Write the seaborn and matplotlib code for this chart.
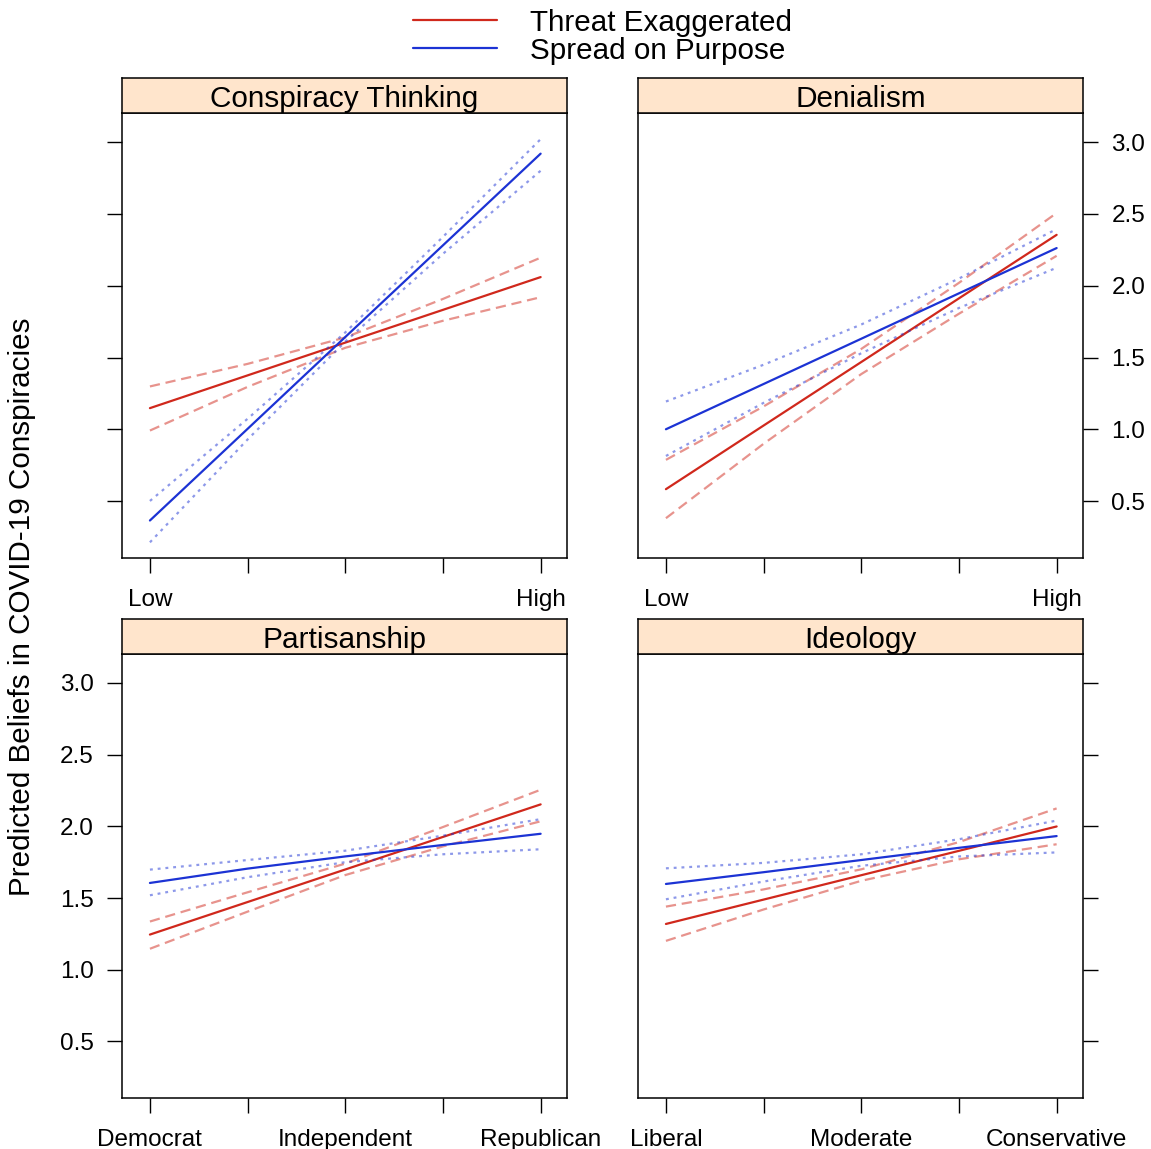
import matplotlib
matplotlib.use("Agg")
import numpy as np
import pandas as pd
import seaborn as sns
import matplotlib.pyplot as plt
from matplotlib.lines import Line2D

# ---------------- data ----------------
panels = ["Conspiracy Thinking", "Denialism", "Partisanship", "Ideology"]
series_names = ["Threat Exaggerated", "Spread on Purpose"]
x_levels = [1, 2, 3, 4, 5]

lowhigh_labels = ["Low", "", "", "", "High"]
party_labels = ["Democrat", "", "Independent", "", "Republican"]
ideology_labels = ["Liberal", "", "Moderate", "", "Conservative"]
y_ticks = [0.5, 1.0, 1.5, 2.0, 2.5, 3.0]

# Conspiracy Thinking
ct_threat_fit = [1.148, 1.376, 1.604, 1.832, 2.060]
ct_threat_upper = [1.299, 1.456, 1.640, 1.908, 2.195]
ct_threat_lower = [0.992, 1.296, 1.568, 1.756, 1.920]
ct_spread_fit = [0.366, 1.004, 1.643, 2.281, 2.919]
ct_spread_upper = [0.502, 1.074, 1.675, 2.340, 3.020]
ct_spread_lower = [0.214, 0.930, 1.611, 2.222, 2.800]

# Denialism
de_threat_fit = [0.584, 1.027, 1.469, 1.912, 2.354]
de_threat_upper = [0.788, 1.160, 1.560, 2.020, 2.506]
de_threat_lower = [0.382, 0.900, 1.385, 1.805, 2.208]
de_spread_fit = [1.001, 1.316, 1.631, 1.947, 2.262]
de_spread_upper = [1.194, 1.450, 1.730, 2.050, 2.394]
de_spread_lower = [0.815, 1.185, 1.530, 1.845, 2.125]

# Partisanship
pa_threat_fit = [1.245, 1.472, 1.699, 1.926, 2.153]
pa_threat_upper = [1.336, 1.540, 1.740, 1.995, 2.255]
pa_threat_lower = [1.146, 1.405, 1.660, 1.860, 2.035]
pa_spread_fit = [1.605, 1.705, 1.790, 1.870, 1.948]
pa_spread_upper = [1.698, 1.765, 1.830, 1.935, 2.050]
pa_spread_lower = [1.519, 1.645, 1.750, 1.805, 1.840]

# Ideology
id_threat_fit = [1.319, 1.489, 1.659, 1.829, 1.999]
id_threat_upper = [1.440, 1.560, 1.700, 1.890, 2.125]
id_threat_lower = [1.201, 1.420, 1.620, 1.770, 1.875]
id_spread_fit = [1.598, 1.680, 1.765, 1.850, 1.932]
id_spread_upper = [1.707, 1.745, 1.805, 1.910, 2.040]
id_spread_lower = [1.491, 1.615, 1.725, 1.790, 1.818]

# ---------------- build long table ----------------
table = {
    "Conspiracy Thinking": {
        "Threat Exaggerated": (ct_threat_fit, ct_threat_lower, ct_threat_upper),
        "Spread on Purpose": (ct_spread_fit, ct_spread_lower, ct_spread_upper)},
    "Denialism": {
        "Threat Exaggerated": (de_threat_fit, de_threat_lower, de_threat_upper),
        "Spread on Purpose": (de_spread_fit, de_spread_lower, de_spread_upper)},
    "Partisanship": {
        "Threat Exaggerated": (pa_threat_fit, pa_threat_lower, pa_threat_upper),
        "Spread on Purpose": (pa_spread_fit, pa_spread_lower, pa_spread_upper)},
    "Ideology": {
        "Threat Exaggerated": (id_threat_fit, id_threat_lower, id_threat_upper),
        "Spread on Purpose": (id_spread_fit, id_spread_lower, id_spread_upper)},
}
rows = []
for p, d in table.items():
    for s, (fit, lo, up) in d.items():
        for band, vals in (("fit", fit), ("lower", lo), ("upper", up)):
            for xv, yv in zip(x_levels, vals):
                rows.append(dict(panel=p, series=s, band=band, x=xv, y=yv))
df = pd.DataFrame(rows)

# ---------------- style ----------------
sns.set_style("white")
plt.rcParams["font.family"] = ["Liberation Sans", "DejaVu Sans"]
plt.rcParams["text.color"] = "black"
plt.rcParams["axes.labelcolor"] = "black"
plt.rcParams["xtick.color"] = "black"
plt.rcParams["ytick.color"] = "black"

colors = {"Threat Exaggerated": "#D0281C", "Spread on Purpose": "#1C33D4"}
ci_styles = {"Threat Exaggerated": (0, (4.6, 2.6)), "Spread on Purpose": (0, (1.3, 2.2))}

W, H = 1151, 1149
fig = plt.figure(figsize=(W / 100, H / 100), dpi=100)

def fx(px):
    return px / W

def fy(py):
    return 1 - py / H

panel_boxes = {
    "Conspiracy Thinking": (122, 113, 567, 558),
    "Denialism": (638, 113, 1083, 558),
    "Partisanship": (122, 654, 567, 1098),
    "Ideology": (638, 654, 1083, 1098),
}
strip_h = 35
xtick_labels = {
    "Conspiracy Thinking": lowhigh_labels,
    "Denialism": lowhigh_labels,
    "Partisanship": party_labels,
    "Ideology": ideology_labels,
}

tick_fs = 17.5
strip_fs = 21.4
big_fs = 21.3

for p in panels:
    x0, y0, x1, y1 = panel_boxes[p]
    ax = fig.add_axes([fx(x0), fy(y1), fx(x1 - x0), (y1 - y0) / H])
    sub = df[df.panel == p]
    for s in series_names:
        ss = sub[sub.series == s]
        for band in ("lower", "upper"):
            sns.lineplot(data=ss[ss.band == band], x="x", y="y", ax=ax,
                         color=colors[s], alpha=0.5, lw=1.6,
                         linestyle=ci_styles[s], estimator=None, legend=False)
        sns.lineplot(data=ss[ss.band == "fit"], x="x", y="y", ax=ax,
                     color=colors[s], lw=1.6, estimator=None, legend=False)
    ax.set_xlim(0.714, 5.27)
    ax.set_ylim(0.105, 3.202)
    ax.set_xlabel("")
    ax.set_ylabel("")
    ax.set_xticks(x_levels)
    ax.set_xticklabels(xtick_labels[p])
    ax.set_yticks(y_ticks)
    ax.set_yticklabels([f"{v:.1f}" for v in y_ticks])
    for sp in ax.spines.values():
        sp.set_color("black")
        sp.set_linewidth(1.1)
    ax.tick_params(axis="both", direction="out", length=10.5, width=1.0,
                   pad=10, labelsize=tick_fs, colors="black")
    ax.tick_params(axis="x", top=False, bottom=True, pad=11.5)
    if p == "Conspiracy Thinking":
        ax.tick_params(axis="y", left=True, labelleft=False, right=False, labelright=False)
    elif p == "Denialism":
        ax.tick_params(axis="y", left=False, labelleft=False, right=True, labelright=True)
    elif p == "Partisanship":
        ax.tick_params(axis="y", left=True, labelleft=True, right=False, labelright=False)
    else:
        ax.tick_params(axis="y", left=False, labelleft=False, right=True, labelright=False)

    # strip
    sax = fig.add_axes([fx(x0), fy(y0), fx(x1 - x0), strip_h / H])
    sax.set_facecolor("#FFE5CC")
    sax.set_xticks([])
    sax.set_yticks([])
    for sp in sax.spines.values():
        sp.set_color("black")
        sp.set_linewidth(1.1)
    sax.text(0.5, 0.40, p, ha="center", va="center", fontsize=strip_fs,
             color="black", transform=sax.transAxes)

# y label
fig.text(fx(22), fy(607), "Predicted Beliefs in COVID-19 Conspiracies",
         rotation=90, ha="center", va="center", fontsize=big_fs, color="black")

# legend (key drawn at top, lattice style)
for i, s in enumerate(series_names):
    yy = fy(20 + 28 * i)
    fig.add_artist(Line2D([fx(413), fx(497)], [yy, yy], color=colors[s], lw=1.6,
                          transform=fig.transFigure))
    fig.text(fx(530), yy, s, ha="left", va="center_baseline", fontsize=big_fs,
             color="black")

fig.savefig("out.png", dpi=100)
